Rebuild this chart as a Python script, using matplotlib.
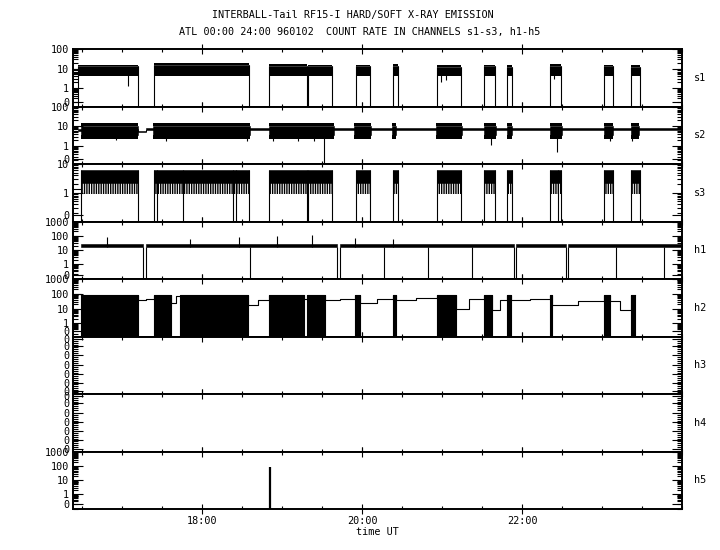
import numpy as np
import matplotlib
matplotlib.use('Agg')
import matplotlib.pyplot as plt
from matplotlib.ticker import LogLocator, MultipleLocator, NullFormatter

plt.rcParams['font.family'] = 'DejaVu Sans Mono'
plt.rcParams['font.size'] = 7.3
plt.rcParams['hatch.linewidth'] = 1.0

# ---- data (time in hours UT, counts/s) ----
t_min, t_max = 16.38, 24.0
xticks = [18, 20, 22]
xticklabels = ['18:00', '20:00', '22:00']

# s1: on intervals, noise band (core low/high, fringe low/high)
s1_start = [16.45, 17.40, 18.84, 19.32, 19.92, 20.39, 20.94, 21.52, 21.81, 22.35, 23.02, 23.36]
s1_end   = [17.20, 18.59, 19.31, 19.63, 20.10, 20.45, 21.24, 21.66, 21.87, 22.49, 23.14, 23.47]
s1_lo    = [5.5, 6.0, 5.5, 5.5, 5.5, 5.5, 5.5, 5.5, 5.5, 5.5, 5.5, 5.5]
s1_hi    = [13, 15, 14, 13, 13, 14, 12, 13, 12, 14, 13, 12]
s1_fr_lo = 4.0
s1_fr_hi = [16, 19, 18, 16, 16, 17, 15, 16, 15, 17, 16, 15]
s1_dip_t = [17.08, 20.99, 21.05, 22.40]
s1_dip_v = [1.3, 2.0, 2.5, 3.0]

# s2: quiet level everywhere, noisy band during s1 activity, spikes
s2_quiet_t = [16.45, 17.20, 17.30, 24.0]
s2_quiet_lo = [5.5, 5.0, 6.5, 5.5]
s2_quiet_hi = [7.5, 6.0, 8.0, 7.5]
s2_start = [16.49, 17.39, 18.84, 19.90, 20.38, 20.93, 21.52, 21.81, 22.35, 23.02, 23.36]
s2_end   = [17.20, 18.60, 19.65, 20.11, 20.42, 21.25, 21.67, 21.88, 22.50, 23.14, 23.46]
s2_lo, s2_hi = 3.6, 11.0
s2_fr_lo, s2_fr_hi = 2.3, 14.0
s2_spike_t = [16.93, 17.55, 18.56, 18.89, 19.20, 19.40, 19.53, 21.61, 22.44, 23.10, 23.38]
s2_spike_v = [2.0, 1.8, 1.8, 1.8, 1.8, 1.8, 0.0, 1.1, 0.5, 1.8, 1.8]

# s3: on intervals, band, dropouts to zero
s3_pre = 1.4
s3_start = [16.49, 17.40, 18.84, 19.32, 19.92, 20.39, 20.94, 21.52, 21.81, 22.35, 23.02, 23.36]
s3_end   = [17.20, 18.59, 19.31, 19.63, 20.10, 20.45, 21.24, 21.66, 21.87, 22.49, 23.14, 23.47]
s3_lo, s3_mid, s3_hi = 0.9, 2.2, 6.3
s3_drop_t = [17.44, 17.76, 18.39, 18.43, 22.45]

# h1: continuous band, gaps (zero intervals), single dropouts, spikes up
h1_t0, h1_t1 = 16.49, 24.0
h1_lo, h1_hi = 17.0, 27.0
h1_gap_start = [17.26, 19.69, 21.90, 22.55]
h1_gap_end   = [17.30, 19.73, 21.93, 22.58]
h1_drop_t = [18.60, 20.28, 20.83, 21.38, 23.17, 23.78]
h1_up_t = [16.81, 17.85, 18.46, 18.94, 19.38, 19.91, 20.39]
h1_up_v = [80, 60, 80, 90, 120, 70, 55]

# h2: saturated blocks and step level between them
h2_blk_start = [16.49, 17.40, 17.73, 18.84, 19.31, 19.91, 20.39, 20.94, 21.52, 21.81, 22.35, 23.02, 23.36]
h2_blk_end   = [17.20, 17.61, 18.57, 19.28, 19.54, 19.98, 20.43, 21.18, 21.63, 21.86, 22.38, 23.10, 23.41]
h2_blk_top = 85
h2_step_t = [16.38, 16.49, 17.20, 17.30, 17.40, 17.61, 17.67, 17.73, 18.57, 18.70, 18.84, 19.28, 19.31,
             19.54, 19.72, 19.91, 19.98, 20.19, 20.39, 20.43, 20.68, 20.94, 21.18, 21.34, 21.52,
             21.63, 21.73, 21.81, 21.86, 22.10, 22.35, 22.38, 22.70, 23.02, 23.10, 23.23, 23.36, 23.41]
h2_step_v = [95, 85, 36, 42, 85, 25, 77, 85, 17, 36, 85, 46, 85,
             36, 42, 85, 25, 42, 85, 36, 54, 85, 9, 46, 85,
             8.5, 36, 85, 36, 44, 85, 17, 32, 85, 32, 8.5, 85, 85]

# h3, h4: nothing
h3_counts = [0, 0]
h4_counts = [0, 0]

# h5: single burst
h5_t = [18.85]
h5_v = [90]

names = ['s1', 's2', 's3', 'h1', 'h2', 'h3', 'h4', 'h5']
# log10 y-limits and position of the "0" label
ylims = {'s1': (-0.94, 2.0), 's2': (-0.9, 2.0), 's3': (-1.0, 1.0),
         'h1': (-1.07, 3.0), 'h2': (-0.88, 3.0), 'h5': (-1.07, 3.07)}
zero_pos = {'s1': -0.72, 's2': -0.65, 's3': -0.76, 'h1': -0.79, 'h2': -0.54, 'h5': -0.71}
decades = {'s1': [1, 10, 100], 's2': [1, 10, 100], 's3': [1, 10],
           'h1': [1, 10, 100, 1000], 'h2': [1, 10, 100, 1000], 'h5': [1, 10, 100, 1000]}
dec_labels = {1: '1', 10: '10', 100: '100', 1000: '1000'}

fig, axes = plt.subplots(8, 1, sharex=True, figsize=(7.2, 5.5), dpi=100)
fig.subplots_adjust(left=0.1007, right=0.9472, top=0.9109, bottom=0.0745, hspace=0)

LW = 0.8

def band(ax, t0, t1, lo, hi, bot, edges=True):
    ax.fill_between([t0, t1], [lo, lo], [hi, hi], color='k', lw=0.4)
    if edges:
        ax.vlines([t0, t1], bot, hi, color='k', lw=LW)

def fringe(ax, t0, t1, lo, hi, hatch='|' * 12):
    ax.fill_between([t0, t1], [lo, lo], [hi, hi], facecolor='none', edgecolor='k',
                    hatch=hatch, lw=0)

for ax, name in zip(axes, names):
    ax.set_xlim(t_min, t_max)
    if name in ylims:
        lo, hi = ylims[name]
        bot = 10 ** lo
        ax.set_yscale('log')
        ax.set_ylim(bot, 10 ** hi)
        ticks = [10 ** zero_pos[name]] + decades[name]
        labels = ['0'] + [dec_labels[d] for d in decades[name]]
        ax.set_yticks(ticks, labels)
        ax.yaxis.set_minor_locator(LogLocator(base=10, subs=np.arange(2, 10), numticks=50))
        ax.yaxis.set_minor_formatter(NullFormatter())
    else:
        ax.set_ylim(0, 1)
        fr = [0.05, 0.2, 0.35, 0.51, 0.67, 0.84, 0.965]
        ax.set_yticks(fr, ['0'] * len(fr))
        ax.yaxis.set_minor_locator(MultipleLocator(1 / 28))

    ax.xaxis.set_major_locator(plt.FixedLocator(xticks))
    ax.xaxis.set_minor_locator(MultipleLocator(0.5))
    ax.tick_params(axis='x', which='both', top=True, bottom=True, width=LW)
    ax.tick_params(axis='x', which='major', direction='inout', length=7.5, pad=1)
    ax.tick_params(axis='x', which='minor', direction='in', length=2.5)
    ax.tick_params(axis='y', which='both', left=True, right=True, direction='in', width=LW)
    ax.tick_params(axis='y', which='major', length=7.5, pad=2.5)
    ax.tick_params(axis='y', which='minor', length=3.5)
    for s in ax.spines.values():
        s.set_linewidth(1.4)
    ax.text(1.02, 0.5, name, transform=ax.transAxes, va='center', ha='left')

# s1
ax = axes[0]
bot = ax.get_ylim()[0]
for t0, t1, lo, hi, fhi in zip(s1_start, s1_end, s1_lo, s1_hi, s1_fr_hi):
    band(ax, t0, t1, lo, hi, bot)
    fringe(ax, t0, t1, s1_fr_lo, lo)
    fringe(ax, t0, t1, hi, fhi)
ax.vlines(s1_dip_t, s1_dip_v, 8, color='k', lw=LW)

# s2
ax = axes[1]
bot = ax.get_ylim()[0]
ax.fill_between(s2_quiet_t, s2_quiet_lo, s2_quiet_hi, step='post', color='k', lw=0.4)
for t0, t1 in zip(s2_start, s2_end):
    band(ax, t0, t1, s2_lo, s2_hi, bot, edges=False)
    fringe(ax, t0, t1, s2_fr_lo, s2_lo)
    fringe(ax, t0, t1, s2_hi, s2_fr_hi)
ax.vlines(s2_spike_t, np.maximum(s2_spike_v, bot), 6, color='k', lw=LW)

# s3
ax = axes[2]
bot = ax.get_ylim()[0]
ax.plot([t_min, s3_start[0]], [s3_pre, s3_pre], color='k', lw=LW)
for t0, t1 in zip(s3_start, s3_end):
    band(ax, t0, t1, s3_mid, s3_hi, bot)
    fringe(ax, t0, t1, s3_lo, s3_mid, hatch='|' * 7)
ax.vlines(s3_drop_t, bot, s3_hi, color='k', lw=LW)

# h1
ax = axes[3]
bot = ax.get_ylim()[0]
edges = [h1_t0] + [v for pair in zip(h1_gap_start, h1_gap_end) for v in pair] + [h1_t1]
for t0, t1 in zip(edges[0::2], edges[1::2]):
    ax.fill_between([t0, t1], h1_lo, h1_hi, color='k', lw=0.4)
ax.vlines(h1_gap_start + h1_gap_end + h1_drop_t, bot, h1_lo, color='k', lw=LW)
ax.vlines(h1_up_t, h1_lo, h1_up_v, color='k', lw=LW)

# h2
ax = axes[4]
bot = ax.get_ylim()[0]
ax.step(h2_step_t, h2_step_v, where='post', color='k', lw=LW)
for t0, t1 in zip(h2_blk_start, h2_blk_end):
    band(ax, t0, t1, bot, h2_blk_top, bot)

# h3, h4
axes[5].plot([t_min, t_max], h3_counts, color='k', lw=LW)
axes[6].plot([t_min, t_max], h4_counts, color='k', lw=LW)

# h5
ax = axes[7]
bot = ax.get_ylim()[0]
ax.vlines(h5_t, bot, h5_v, color='k', lw=1.6)

axes[-1].set_xticklabels(xticklabels)
axes[-1].set_xlabel('time UT', labelpad=1)

fig.text(0.49, 1 - 15 / 550, 'INTERBALL-Tail RF15-I HARD/SOFT X-RAY EMISSION', ha='center', va='center')
fig.text(0.5, 1 - 32 / 550, 'ATL 00:00 24:00 960102  COUNT RATE IN CHANNELS s1-s3, h1-h5',
         ha='center', va='center')

fig.savefig('out.png', dpi=100)
